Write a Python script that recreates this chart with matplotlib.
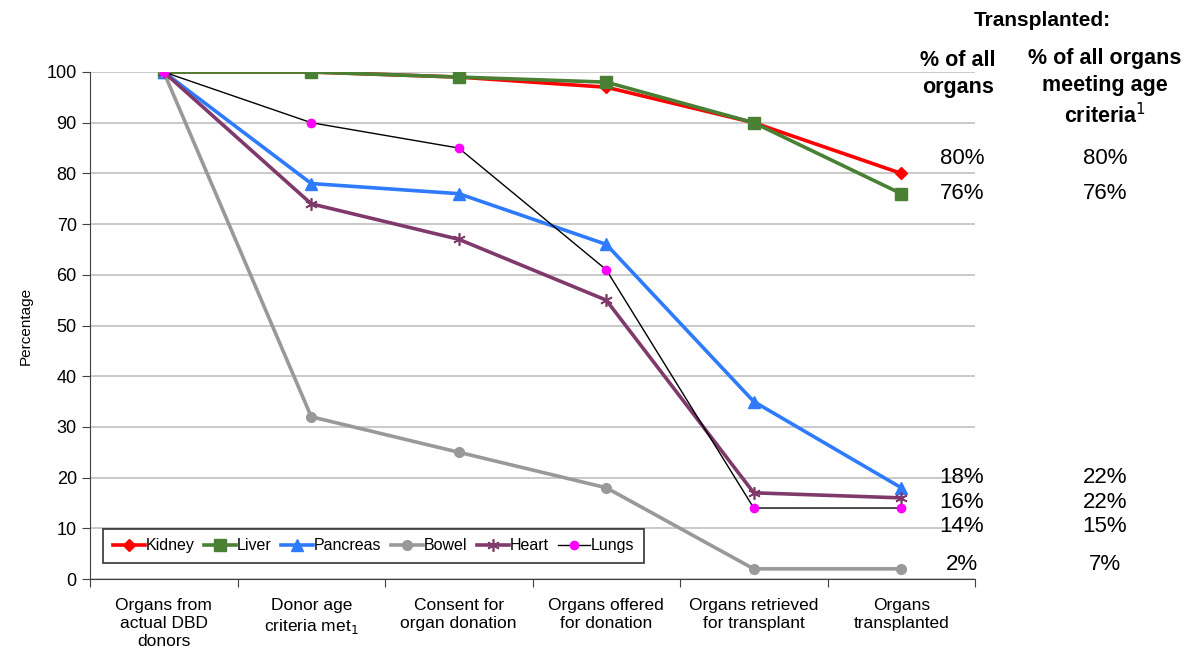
import numpy as np
import matplotlib.pyplot as plt

plt.rcParams['font.family'] = ['Liberation Sans', 'DejaVu Sans']

# Data
stages = ["Organs from\nactual DBD\ndonors", "Donor age\ncriteria met$_1$",
          "Consent for\norgan donation", "Organs offered\nfor donation",
          "Organs retrieved\nfor transplant", "Organs\ntransplanted"]
kidney = [100, 100, 99, 97, 90, 80]
liver = [100, 100, 99, 98, 90, 76]
pancreas = [100, 78, 76, 66, 35, 18]
bowel = [100, 32, 25, 18, 2, 2]
heart = [100, 74, 67, 55, 17, 16]
lungs = [100, 90, 85, 61, 14, 14]

pct_all = ["80%", "76%", "18%", "16%", "14%", "2%"]
pct_age = ["80%", "76%", "22%", "22%", "15%", "7%"]
label_y = [83, 76, 20, 15, 10.3, 2.8]  # text positions on the y scale

fig = plt.figure(figsize=(11.9, 6.51), dpi=100)
ax = fig.add_axes([90 / 1190, 1 - 579 / 651, 885 / 1190, 507 / 651])

x = np.arange(len(stages)) + 0.5
lw = 2.6
ax.plot(x, kidney, color='#FF0000', lw=lw, marker='D', ms=6, label='Kidney')
ax.plot(x, liver, color='#4A8034', lw=lw, marker='s', ms=8, label='Liver')
ax.plot(x, pancreas, color='#2E7BFF', lw=lw, marker='^', ms=8, label='Pancreas')
ax.plot(x, bowel, color='#999999', lw=lw, marker='o', ms=7, label='Bowel')
ax.plot(x, heart, color='#7F3A6B', lw=lw, marker=(6, 2, 0), ms=9, mew=1.2, label='Heart')
ax.plot(x, lungs, color='black', lw=1, marker='o', ms=6, mfc='#FF00FF', mec='#FF00FF',
        label='Lungs')

ax.set_xlim(0, len(stages))
ax.set_ylim(0, 100)
ax.set_yticks(np.arange(0, 101, 10))
ax.yaxis.grid(True, color='#C0C0C0', lw=1.2)
ax.set_axisbelow(True)
ax.set_xticks(np.arange(len(stages) + 1))
ax.set_xticklabels([])
ax.set_xticks(x, minor=True)
ax.set_xticklabels(stages, minor=True, fontsize=12.5, linespacing=1.22)
ax.tick_params(axis='x', which='minor', length=0, pad=14)
ax.tick_params(axis='x', which='major', length=6, color='#404040')
ax.tick_params(axis='y', labelsize=13, length=6, color='#404040')
for s in ['top', 'right']:
    ax.spines[s].set_visible(False)
for s in ['left', 'bottom']:
    ax.spines[s].set_color('#404040')
ax.set_ylabel('Percentage', fontsize=11, labelpad=10)

leg = ax.legend(ncol=6, loc='lower left', bbox_to_anchor=(0.015, 0.032), fontsize=11.5,
                frameon=True, fancybox=False, edgecolor='black', borderpad=0.6,
                handlelength=2.0, handletextpad=0.05, columnspacing=0.6, borderaxespad=0)
leg.get_frame().set_linewidth(1.2)
leg.set_zorder(1.5)

# Right-hand annotation table
fig.text(1042 / 1190, 1 - 20 / 651, 'Transplanted:', ha='center', va='center',
         fontsize=15, fontweight='bold')
fig.text(958 / 1190, 1 - 74 / 651, '% of all\norgans', ha='center', va='center',
         fontsize=15.5, fontweight='bold', linespacing=1.35)
fig.text(1105 / 1190, 1 - 88 / 651, '% of all organs\nmeeting age\ncriteria$^1$',
         ha='center', va='center', fontsize=15.5, fontweight='bold', linespacing=1.35)
trans = ax.get_yaxis_transform().__class__(fig.transFigure, ax.transData)
for a, b, yy in zip(pct_all, pct_age, label_y):
    ax.text(962 / 1190, yy, a, transform=trans, ha='center', va='center', fontsize=16)
    ax.text(1105 / 1190, yy, b, transform=trans, ha='center', va='center', fontsize=16)

fig.savefig('out.png', dpi=100)
